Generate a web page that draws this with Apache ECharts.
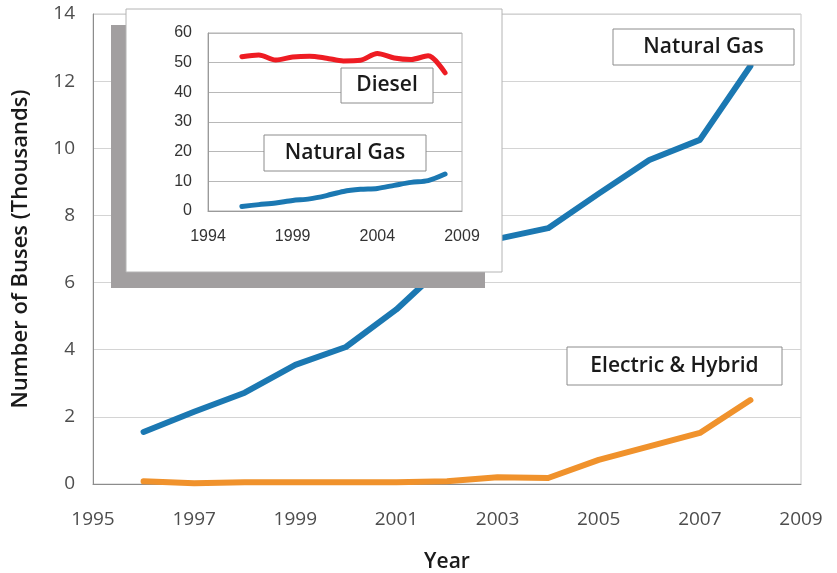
<!DOCTYPE html>
<html>
<head>
<meta charset="utf-8">
<script src="https://cdn.jsdelivr.net/npm/echarts@6/dist/echarts.min.js"></script>
<style>
  html, body { margin: 0; padding: 0; background: #fff; }
  #chart { width: 837px; height: 573px; }
</style>
</head>
<body>
<div id="chart"></div>
<script>
// Transit buses by fuel type, thousands
const years = [1996, 1997, 1998, 1999, 2000, 2001, 2002, 2003, 2004, 2005, 2006, 2007, 2008];
const naturalGas = [1.55, 2.15, 2.72, 3.55, 4.08, 5.2, 6.6, 7.3, 7.62, 8.65, 9.65, 10.25, 12.45];
const electricHybrid = [0.08, 0.02, 0.05, 0.05, 0.05, 0.05, 0.08, 0.2, 0.18, 0.72, 1.12, 1.52, 2.5];
const diesel = [52.0, 52.6, 50.9, 51.9, 52.2, 51.5, 50.6, 50.8, 53.1, 51.6, 51.1, 52.3, 46.6];

const mainXTicks = { min: 1995, max: 2009, interval: 2 };
const mainYTicks = { min: 0, max: 14, interval: 2 };
const insetXTicks = { min: 1994, max: 2009, interval: 5 };
const insetYTicks = { min: 0, max: 60, interval: 10 };

const pairs = (xs, ys) => xs.map((x, i) => [x, ys[i]]);

const sansMain = '"Open Sans", Lato, sans-serif';
const sansInset = '"Liberation Sans", Arial, sans-serif';

// boxed annotation: white rectangle with a thin grey frame and bold caption
function boxedLabel(text, x, y, w, h, z) {
  return {
    type: 'group', z: z,
    children: [
      { type: 'rect', z: z, shape: { x: x, y: y, width: w, height: h },
        style: { fill: '#ffffff', stroke: '#8c8c8c', lineWidth: 1 } },
      { type: 'text', z: z + 1, x: x + w / 2, y: y + h / 2,
        style: { text: text, fill: '#1a1a1a', font: '600 21px ' + sansMain,
                 align: 'center', verticalAlign: 'middle' } }
    ]
  };
}

const chart = echarts.init(document.getElementById('chart'), null, { renderer: 'canvas' });

chart.setOption({
  animation: false,
  backgroundColor: '#ffffff',
  grid: [
    { left: 93, right: 36, top: 14, bottom: 89, show: true, outerBoundsMode: 'none',
      borderColor: '#c8c8c8', borderWidth: 1, backgroundColor: 'transparent' },
    { left: 208, right: 375, top: 33, bottom: 362, show: true, outerBoundsMode: 'none',
      borderColor: '#b0b0b0', borderWidth: 1, backgroundColor: 'transparent', z: 20 }
  ],
  xAxis: [
    { type: 'value', gridIndex: 0, min: mainXTicks.min, max: mainXTicks.max, interval: mainXTicks.interval,
      name: 'Year', nameLocation: 'middle', nameGap: 68,
      nameTextStyle: { fontFamily: sansMain, fontWeight: 600, fontSize: 21, color: '#1a1a1a' },
      axisLine: { show: true, lineStyle: { color: '#8c8c8c', width: 1 } },
      axisTick: { show: false },
      splitLine: { show: false },
      axisLabel: { fontFamily: sansMain, fontSize: 19, color: '#4d4d4d', margin: 26, formatter: v => String(v) } },
    { type: 'value', gridIndex: 1, min: insetXTicks.min, max: insetXTicks.max, interval: insetXTicks.interval, z: 20,
      axisLine: { show: true, lineStyle: { color: '#9a9a9a', width: 1 } },
      axisTick: { show: false },
      splitLine: { show: false },
      axisLabel: { fontFamily: sansInset, fontSize: 16, color: '#333333', margin: 18, formatter: v => String(v) } }
  ],
  yAxis: [
    { type: 'value', gridIndex: 0, min: mainYTicks.min, max: mainYTicks.max, interval: mainYTicks.interval,
      name: 'Number of Buses (Thousands)', nameLocation: 'middle', nameGap: 61, nameRotate: 90,
      nameTextStyle: { fontFamily: sansMain, fontWeight: 600, fontSize: 22, color: '#1a1a1a' },
      axisLine: { show: true, lineStyle: { color: '#8c8c8c', width: 1 } },
      axisTick: { show: false },
      splitLine: { show: true, lineStyle: { color: '#d4d4d4', width: 1 } },
      axisLabel: { fontFamily: sansMain, fontSize: 19, color: '#4d4d4d', margin: 18 } },
    { type: 'value', gridIndex: 1, min: insetYTicks.min, max: insetYTicks.max, interval: insetYTicks.interval, z: 20,
      axisLine: { show: true, lineStyle: { color: '#9a9a9a', width: 1 } },
      axisTick: { show: false },
      splitLine: { show: true, lineStyle: { color: '#b8b8b8', width: 1 } },
      axisLabel: { fontFamily: sansInset, fontSize: 16, color: '#333333', margin: 16 } }
  ],
  series: [
    { name: 'Natural Gas', type: 'line', xAxisIndex: 0, yAxisIndex: 0, z: 3,
      data: pairs(years, naturalGas), showSymbol: false, symbol: 'none',
      lineStyle: { color: '#1b78b2', width: 6, cap: 'round', join: 'round' } },
    { name: 'Electric & Hybrid', type: 'line', xAxisIndex: 0, yAxisIndex: 0, z: 3,
      data: pairs(years, electricHybrid), showSymbol: false, symbol: 'none',
      lineStyle: { color: '#f0922c', width: 6, cap: 'round', join: 'round' } },
    { name: 'Diesel (inset)', type: 'line', xAxisIndex: 1, yAxisIndex: 1, z: 21,
      data: pairs(years, diesel), showSymbol: false, symbol: 'none', smooth: 0.3,
      lineStyle: { color: '#ee1c23', width: 5, cap: 'round', join: 'round' } },
    { name: 'Natural Gas (inset)', type: 'line', xAxisIndex: 1, yAxisIndex: 1, z: 21,
      data: pairs(years, naturalGas), showSymbol: false, symbol: 'none', smooth: 0.3,
      lineStyle: { color: '#1b78b2', width: 5, cap: 'round', join: 'round' } }
  ],
  graphic: [
    // inset panel: offset grey shadow, then the white card on top
    { type: 'rect', z: 10, shape: { x: 111, y: 25, width: 374, height: 263 },
      style: { fill: '#a29fa0' } },
    { type: 'rect', z: 11, shape: { x: 126, y: 9, width: 376, height: 263 },
      style: { fill: '#ffffff', stroke: '#b4b4b4', lineWidth: 1 } },
    boxedLabel('Natural Gas', 613, 29, 181, 36, 5),
    boxedLabel('Electric & Hybrid', 567, 347, 215, 38, 5),
    boxedLabel('Diesel', 341, 68, 92, 35, 25),
    boxedLabel('Natural Gas', 264, 135, 162, 36, 25)
  ]
});
</script>
</body>
</html>
